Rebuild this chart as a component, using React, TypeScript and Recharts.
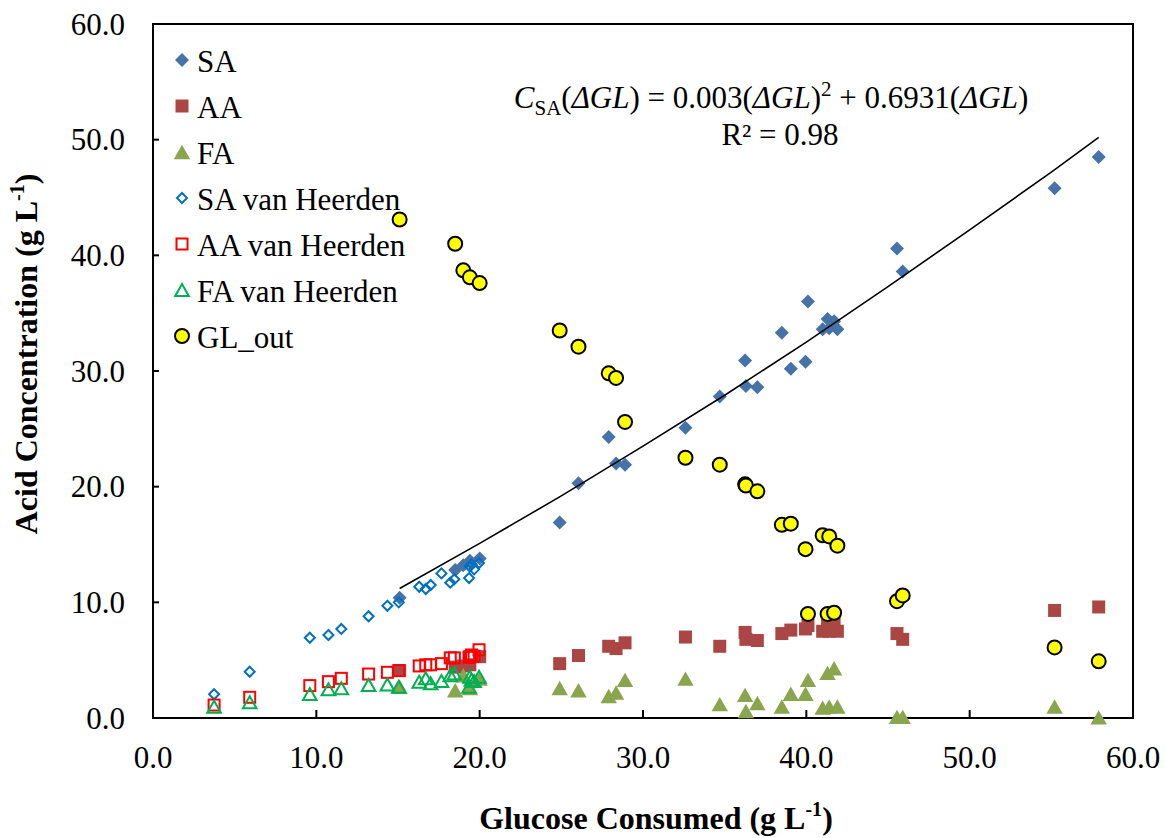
import React from 'react';
import {
  ScatterChart,
  Scatter,
  XAxis,
  YAxis,
  ReferenceArea,
  Legend,
  Customized,
} from 'recharts';

const FONT = '"Liberation Serif", "Times New Roman", Times, serif';

// This work: glucose consumed (g/L) and the acids / glucose left at that point
const glucoseConsumed = [
  15.1, 18.5, 19.0, 19.4, 20.0, 24.9, 26.05, 27.9, 28.35, 28.9, 32.6, 34.7, 36.25, 36.3,
  37.0, 38.5, 39.05, 39.95, 40.1, 41.0, 41.3, 41.4, 41.7, 41.9, 45.55, 45.9, 55.2, 57.9,
];
const saConc = [
  10.4, 12.8, 13.2, 13.6, 13.8, 16.9, 20.3, 24.3, 22.0, 21.9, 25.1, 27.8, 30.9, 28.7,
  28.6, 33.3, 30.2, 30.8, 36.0, 33.6, 34.5, 33.7, 34.3, 33.6, 40.6, 38.6, 45.8, 48.5,
];
const aaConc = [
  4.1, 4.4, 4.5, 4.6, 5.3, 4.7, 5.4, 6.2, 6.0, 6.5, 7.0, 6.2, 7.4, 6.8,
  6.7, 7.3, 7.6, 7.7, 8.0, 7.5, 8.0, 7.5, 8.4, 7.5, 7.3, 6.8, 9.3, 9.6,
];
const faConc = [
  2.7, 2.4, 3.7, 2.6, 3.4, 2.6, 2.4, 1.9, 2.2, 3.3, 3.4, 1.2, 2.0, 0.6,
  1.3, 1.0, 2.1, 2.1, 3.3, 0.9, 3.9, 1.0, 4.3, 1.0, 0.1, 0.1, 1.0, 0.05,
];
const glOut = [
  43.1, 41.0, 38.7, 38.1, 37.6, 33.5, 32.1, 29.8, 29.4, 25.6, 22.5, 21.9, 20.2, 20.1,
  19.6, 16.7, 16.8, 14.6, 9.0, 15.8, 9.0, 15.7, 9.1, 14.9, 10.1, 10.6, 6.1, 4.9,
];

// van Heerden data
const vhGlucose = [
  3.74, 5.92, 9.6, 10.74, 11.53, 13.2, 14.35, 15.05, 16.3, 16.7, 17.0, 17.66, 18.2, 18.45,
  19.35, 19.4, 19.5, 19.66, 19.96,
];
const vhSA = [
  2.05, 4.0, 6.94, 7.17, 7.7, 8.8, 9.7, 10.0, 11.35, 11.15, 11.5, 12.5, 11.7, 12.0,
  12.1, 13.1, 13.3, 12.85, 13.4,
];
const vhAA = [
  1.12, 1.79, 2.8, 3.14, 3.43, 3.8, 3.95, 4.1, 4.5, 4.6, 4.6, 4.7, 5.2, 5.2,
  5.25, 5.3, 5.45, 5.35, 5.9,
];
const vhFA = [
  0.98, 1.36, 2.07, 2.48, 2.57, 2.85, 2.9, 2.7, 3.14, 3.43, 3.0, 3.2, 3.7, 3.85,
  2.7, 3.57, 3.3, 3.2, 3.57,
];

// points
const trendX = [15.1, 20, 25, 30, 35, 40, 45, 50, 55, 57.9];
const trendY = [11.2, 15.1, 19.2, 23.5, 27.9, 32.5, 37.3, 42.2, 47.2, 50.2];

const axisTicks = [0, 10, 20, 30, 40, 50, 60];

const zip = (xs: number[], ys: number[]) => xs.map((x, i) => ({ x, y: ys[i] }));

type Kind = 'diamond' | 'square' | 'triangle' | 'circle';
interface SeriesDef {
  name: string;
  kind: Kind;
  fill: string;
  stroke: string;
  data: { x: number; y: number }[];
}

const SERIES: SeriesDef[] = [
  { name: 'SA', kind: 'diamond', fill: '#4572A7', stroke: 'none', data: zip(glucoseConsumed, saConc) },
  { name: 'AA', kind: 'square', fill: '#AA4643', stroke: 'none', data: zip(glucoseConsumed, aaConc) },
  { name: 'FA', kind: 'triangle', fill: '#89A54E', stroke: 'none', data: zip(glucoseConsumed, faConc) },
  { name: 'SA van Heerden', kind: 'diamond', fill: 'none', stroke: '#0070C0', data: zip(vhGlucose, vhSA) },
  { name: 'AA van Heerden', kind: 'square', fill: 'none', stroke: '#FF0000', data: zip(vhGlucose, vhAA) },
  { name: 'FA van Heerden', kind: 'triangle', fill: 'none', stroke: '#00B050', data: zip(vhGlucose, vhFA) },
  { name: 'GL_out', kind: 'circle', fill: '#FFFF00', stroke: '#000', data: zip(glucoseConsumed, glOut) },
];

const drawMarker = (kind: Kind, cx: number, cy: number, fill: string, stroke: string) => {
  const hollow = fill === 'none';
  const sw = 2;
  if (kind === 'diamond') {
    const r = hollow ? 5 : 7;
    return (
      <path
        d={`M${cx},${cy - r}L${cx + r},${cy}L${cx},${cy + r}L${cx - r},${cy}Z`}
        fill={fill}
        stroke={stroke}
        strokeWidth={sw}
      />
    );
  }
  if (kind === 'square') {
    const h = hollow ? 5.5 : 6.5;
    return (
      <rect x={cx - h} y={cy - h} width={h * 2} height={h * 2} fill={fill} stroke={stroke} strokeWidth={sw} />
    );
  }
  if (kind === 'triangle') {
    const w = hollow ? 6.8 : 8.2;
    const h = hollow ? 6 : 7.2;
    return (
      <path
        d={`M${cx},${cy - h}L${cx + w},${cy + h}L${cx - w},${cy + h}Z`}
        fill={fill}
        stroke={stroke}
        strokeWidth={sw}
        strokeLinejoin="miter"
      />
    );
  }
  return <circle cx={cx} cy={cy} r={7} fill={fill} stroke={stroke} strokeWidth={2} />;
};

const XTick = (props: any) => {
  const { x, y, payload } = props;
  return (
    <g>
      <line x1={x} y1={y} x2={x} y2={y - 8} stroke="#000" strokeWidth={2} />
      <text x={x} y={y + 50} textAnchor="middle" fontSize={31} fontFamily={FONT} fill="#000">
        {Number(payload.value).toFixed(1)}
      </text>
    </g>
  );
};

const YTick = (props: any) => {
  const { x, y, payload } = props;
  return (
    <g>
      <line x1={x} y1={y} x2={x + 6} y2={y} stroke="#000" strokeWidth={2} />
      <text x={x - 28} y={y + 10.5} textAnchor="end" fontSize={31} fontFamily={FONT} fill="#000">
        {Number(payload.value).toFixed(1)}
      </text>
    </g>
  );
};

const LEGEND_LEFT = 160;
const LEGEND_TOP = 36;

const renderLegend = () => (
  <svg width={300} height={330} style={{ display: 'block' }}>
    {SERIES.map((s, i) => {
      const baseline = 72 + i * 46 - LEGEND_TOP;
      return (
        <g key={s.name}>
          {drawMarker(s.kind, 182 - LEGEND_LEFT, baseline - 12, s.fill, s.stroke)}
          <text x={197 - LEGEND_LEFT} y={baseline} fontSize={31} fontFamily={FONT} fill="#000">
            {s.name}
          </text>
        </g>
      );
    })}
  </svg>
);

// axis titles and the fit equation
const Annotations = () => (
  <g fontFamily={FONT} fill="#000">
    <text x={656} y={829} textAnchor="middle" fontSize={32} fontWeight="bold">
      Glucose Consumed (g L<tspan fontSize={20} dy={-13}>-1</tspan>
      <tspan dy={13}>)</tspan>
    </text>
    <text
      transform="translate(37,354) rotate(-90)"
      x={0}
      y={0}
      textAnchor="middle"
      fontSize={32}
      fontWeight="bold"
    >
      Acid Concentration (g L<tspan fontSize={20} dy={-13}>-1</tspan>
      <tspan dy={13}>)</tspan>
    </text>
    <text x={771} y={108} textAnchor="middle" fontSize={31}>
      <tspan fontStyle="italic">C</tspan>
      <tspan fontSize={21} dy={7}>SA</tspan>
      <tspan dy={-7}>(</tspan>
      <tspan fontStyle="italic">ΔGL</tspan>
      <tspan>) = 0.003(</tspan>
      <tspan fontStyle="italic">ΔGL</tspan>
      <tspan>)</tspan>
      <tspan fontSize={21} dy={-12}>2</tspan>
      <tspan dy={12}> + 0.6931(</tspan>
      <tspan fontStyle="italic">ΔGL</tspan>
      <tspan>)</tspan>
    </text>
    <text x={780} y={145} textAnchor="middle" fontSize={31}>
      R² = 0.98
    </text>
  </g>
);

const App = () => {
  return (
    <div style={{ position: 'absolute', left: 0, top: 0, background: '#fff' }}>
      <ScatterChart width={1166} height={838} margin={{ top: 24, right: 33, bottom: 0, left: 0 }}>
        <XAxis
          type="number"
          dataKey="x"
          domain={[0, 60]}
          ticks={axisTicks}
          height={120}
          tickSize={0}
          tickMargin={0}
          tickLine={false}
          tick={<XTick />}
          axisLine={{ stroke: '#000', strokeWidth: 2 }}
        />
        <YAxis
          type="number"
          dataKey="y"
          domain={[0, 60]}
          ticks={axisTicks}
          width={153}
          tickSize={0}
          tickMargin={0}
          tickLine={false}
          tick={<YTick />}
          axisLine={{ stroke: '#000', strokeWidth: 2 }}
        />
        <ReferenceArea x1={0} x2={60} y1={0} y2={60} fill="none" fillOpacity={0} stroke="#000" strokeWidth={2} />
        {SERIES.map((s) => (
          <Scatter
            key={s.name}
            name={s.name}
            data={s.data}
            isAnimationActive={false}
            shape={(p: any) => drawMarker(s.kind, p.cx, p.cy, s.fill, s.stroke)}
          />
        ))}
        <Scatter
          name="trend"
          data={zip(trendX, trendY)}
          line={{ stroke: '#000', strokeWidth: 1.6 }}
          lineType="joint"
          shape={() => <g />}
          legendType="none"
          isAnimationActive={false}
        />
        <Legend
          layout="vertical"
          align="center"
          verticalAlign="middle"
          content={renderLegend}
          wrapperStyle={{ position: 'absolute', left: LEGEND_LEFT, top: LEGEND_TOP, width: 300, height: 330 }}
        />
        <Customized component={Annotations} />
      </ScatterChart>
    </div>
  );
};

export default App;
